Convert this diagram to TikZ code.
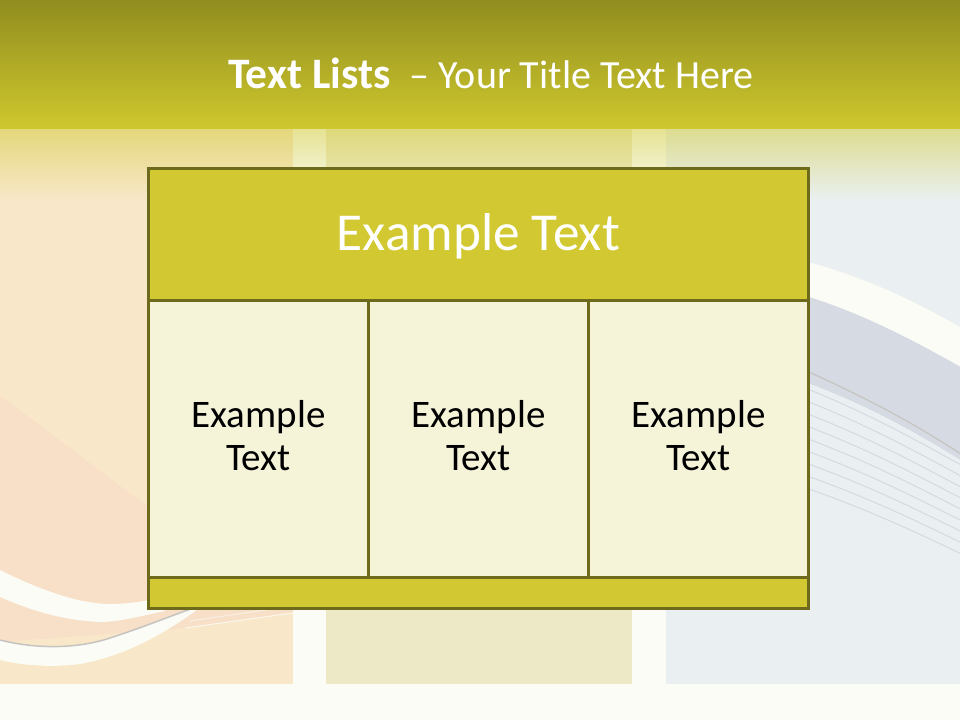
\documentclass[tikz,border=0pt]{standalone}
\usepackage{fontspec}
\setmainfont{Carlito}
\definecolor{bandtop}{HTML}{918D1F}
\definecolor{bandbot}{HTML}{CFC82E}
\definecolor{paper}{HTML}{FBFCF5}
\definecolor{peach}{HTML}{F8E7C8}
\definecolor{pinkish}{HTML}{F8DFC8}
\definecolor{sand}{HTML}{EDE9C6}
\definecolor{mist}{HTML}{EAF0F1}
\definecolor{bluegray}{HTML}{D5DAE3}
\definecolor{thinline}{HTML}{D3D9E0}
\definecolor{greyline}{HTML}{C6C4C0}
\definecolor{olive}{HTML}{6D6A1B}
\definecolor{hdrfill}{HTML}{D2C932}
\definecolor{cellfill}{HTML}{F5F4D9}
\tikzset{
  tblline/.style={draw=olive, line width=3pt},
  titletext/.style={text=white, inner sep=0pt, font=\fontsize{40}{48}\selectfont},
  hdtext/.style={text=white, inner sep=0pt, font=\fontsize{53.3}{64}\selectfont},
  celltext/.style={text=black, inner sep=0pt, align=center, font=\fontsize{39}{43}\selectfont},
}
\begin{document}
\begin{tikzpicture}[x=1pt,y=-1pt]
\useasboundingbox (0,0) rectangle (960,720);
% background
\fill[paper] (0,0) rectangle (960,720);
\fill[peach] (0,128) rectangle (293,684);
\fill[sand] (326,128) rectangle (632,684);
\fill[mist] (666,128) rectangle (960,684);
% left decoration
\begin{scope}
  \clip (0,128) rectangle (293,684);
  \fill[pinkish] (0,396) .. controls (50,432) and (100,472) .. (150,508)
     -- (293,508) -- (293,612) -- (185,628) -- (0,642) -- cycle;
  \fill[paper] (0,570) .. controls (40,590) and (80,604) .. (110,604)
     .. controls (130,604) and (145,601) .. (165,597) -- (165,611)
     .. controls (140,616) and (120,622) .. (100,622)
     .. controls (60,620) and (30,610) .. (0,597) -- cycle;
  \fill[paper] (0,640) .. controls (40,650) and (80,648) .. (110,638)
     .. controls (150,625) and (175,614) .. (205,604)
     .. controls (170,630) and (130,655) .. (80,664)
     .. controls (50,668) and (20,665) .. (0,660) -- cycle;
  \draw[greyline, line width=1.5pt] (0,640) .. controls (40,650) and (80,648) .. (110,638)
     .. controls (150,625) and (175,614) .. (205,604);
  \draw[paper, line width=1pt, opacity=.8] (185,628) -- (293,613);
  \draw[paper, line width=1pt, opacity=.6] (190,621) -- (293,606);
\end{scope}
% right decoration
\begin{scope}
  \clip (666,128) rectangle (960,684);
  \fill[bluegray] (800,294) .. controls (860,312) and (910,338) .. (970,372)
     -- (970,466) .. controls (910,428) and (860,402) .. (800,380) -- cycle;
  \fill[paper] (800,260) .. controls (850,272) and (910,297) .. (970,333)
     -- (970,372) .. controls (910,338) and (860,312) .. (800,294) -- cycle;
  \draw[greyline, line width=1.2pt] (800,368) .. controls (860,395) and (910,420) .. (970,460);
  \foreach \i in {0,...,8} {
    \pgfmathsetmacro\ya{386+12.5*\i}
    \pgfmathsetmacro\yb{470+11*\i}
    \pgfmathsetmacro\yc{\ya+0.28*(\yb-\ya)}
    \pgfmathsetmacro\yd{\ya+0.6*(\yb-\ya)}
    \draw[thinline, line width=1pt] (800,\ya) .. controls (860,\yc) and (910,\yd) .. (970,\yb);
  }
\end{scope}
% fade from the band into the panels
\shade[top color=bandbot!50!peach, middle color=bandbot!15!peach, bottom color=peach] (0,128) rectangle (293,200);
\shade[top color=bandbot!50!paper, middle color=bandbot!15!paper, bottom color=paper] (293,128) rectangle (326,200);
\shade[top color=bandbot!50!sand, middle color=bandbot!15!sand, bottom color=sand] (326,128) rectangle (632,200);
\shade[top color=bandbot!50!paper, middle color=bandbot!15!paper, bottom color=paper] (632,128) rectangle (666,200);
\shade[top color=bandbot!50!mist, middle color=bandbot!15!mist, bottom color=mist] (666,128) rectangle (960,200);
% top band
\shade[top color=bandtop, bottom color=bandbot] (0,0) rectangle (960,128.5);
% title
\node[titletext, anchor=base west] (title) at (228,88)
  {{\fontsize{43.5}{50}\selectfont\textbf{Text Lists}}\hspace{19pt}– Your Title Text Here};
% table
\fill[hdrfill] (148.5,168.5) rectangle (808.5,300.5);
\fill[cellfill] (148.5,300.5) rectangle (808.5,577.5);
\fill[hdrfill] (148.5,577.5) rectangle (808.5,608);
\draw[tblline] (148.5,168.5) rectangle (808.5,608);
\draw[tblline] (148.5,300.5) -- (808.5,300.5);
\draw[tblline] (148.5,577.5) -- (808.5,577.5);
\draw[tblline] (368.5,300.5) -- (368.5,577.5);
\draw[tblline] (588.5,300.5) -- (588.5,577.5);
% texts
\node[hdtext, anchor=base] (head) at (478.5,250) {Example Text};
\node[celltext] (cellA) at (258.5,436) {Example\\Text};
\node[celltext] (cellB) at (478.5,436) {Example\\Text};
\node[celltext] (cellC) at (698.5,436) {Example\\Text};
\end{tikzpicture}
\end{document}
